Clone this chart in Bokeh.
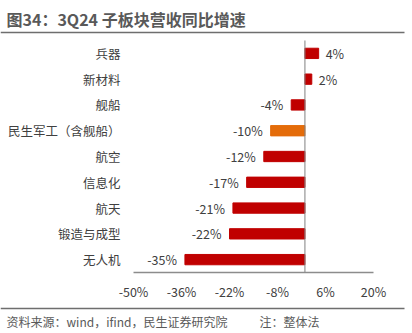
from bokeh.plotting import figure
from bokeh.models import Range1d, ColumnDataSource
from bokeh.core.properties import value
from bokeh.embed import file_html
from bokeh.resources import INLINE

# ---- data ----
categories = ["兵器", "新材料", "舰船", "民生军工（含舰船）", "航空", "信息化",
              "航天", "锻造与成型", "无人机"]
values = [4, 2, -4, -10, -12, -17, -21, -22, -35]
highlight = "民生军工（含舰船）"
tick_values = [-50, -36, -22, -8, 6, 20]
tick_labels = ["-50%", "-36%", "-22%", "-8%", "6%", "20%"]
title_text = "图34：3Q24 子板块营收同比增速"
source_text = "资料来源：wind，ifind，民生证券研究院"
note_text = "注：整体法"

FONT = "Noto Sans CJK SC"
RED = "#C00000"
ORANGE = "#E46C0A"
TEXT = "#404040"
GREY = "#595959"

# ---- layout geometry (pixels) ----
W, H = 412, 333
PL, PR, PT, PB = 133, 373, 40, 272          # plot area in canvas pixels
XMIN, XMAX = tick_values[0], tick_values[-1]
N = len(categories)
KX = (XMAX - XMIN) / (PR - PL)               # data units per pixel (x)
BAND = (PB - PT) / N                         # pixels per category


def dx(px):
    return XMIN + (px - PL) * KX


def dy(py):
    return (py - PT) / BAND - 0.5


p = figure(width=W, height=H, output_backend="svg", toolbar_location=None,
           x_range=Range1d(dx(0), dx(W)), y_range=Range1d(dy(H), dy(0)),
           x_axis_location=None, y_axis_location=None,
           min_border=0, min_border_left=0, min_border_right=0,
           min_border_top=0, min_border_bottom=0)
p.grid.visible = False
p.outline_line_color = None
p.background_fill_color = "white"
p.border_fill_color = "white"

idx = list(range(N))
colors = [ORANGE if c == highlight else RED for c in categories]
labels = [f"{v}%" for v in values]
aligns = ["left" if v >= 0 else "right" for v in values]
offsets = [7 if v >= 0 else -8 for v in values]
src = ColumnDataSource(dict(i=idx, cat=categories, val=values, color=colors,
                            label=labels, align=aligns, off=offsets))

# bars
p.hbar(y="i", right="val", left=0, height=0.4, color="color", source=src)
# value labels
p.text(x="val", y="i", text="label", text_align="align", x_offset="off",
       text_baseline="middle", text_font=value(FONT), text_font_size="12.5px",
       text_color=TEXT, source=src)
# category labels (left axis)
p.text(x=dx(120), y="i", text="cat", text_align="right",
       text_baseline="middle", text_font=value(FONT), text_font_size="12.5px",
       text_color=TEXT, source=src)
# zero line
p.segment(x0=[0], y0=[dy(PT)], x1=[0], y1=[dy(PB)], line_color="#808080",
          line_width=1)
# bottom axis line and tick labels
p.segment(x0=[XMIN], y0=[dy(PB)], x1=[XMAX], y1=[dy(PB)],
          line_color="#8C8C8C", line_width=1.5)
p.text(x=tick_values, y=[dy(291)] * len(tick_values), text=tick_labels,
       text_align="center", text_baseline="middle", text_font=value(FONT),
       text_font_size="12.5px", text_color=TEXT)

# title and rule
p.text(x=[dx(6)], y=[dy(18)], text=[title_text], text_font=value(FONT),
       text_font_size="16px", text_font_style="bold", text_color=GREY,
       text_baseline="middle")
p.segment(x0=[dx(0)], y0=[dy(32)], x1=[dx(404)], y1=[dy(32)],
          line_color="#6E6E6E", line_width=1.6)

# footer rule and texts
p.segment(x0=[dx(0)], y0=[dy(308)], x1=[dx(404)], y1=[dy(308)],
          line_color="#6E6E6E", line_width=1.6)
p.text(x=[dx(6), dx(259)], y=[dy(321), dy(321)], text=[source_text, note_text],
       text_font=value(FONT), text_font_size="12px", text_color=GREY,
       text_baseline="middle")

open("out.html", "w").write(file_html(p, INLINE))
